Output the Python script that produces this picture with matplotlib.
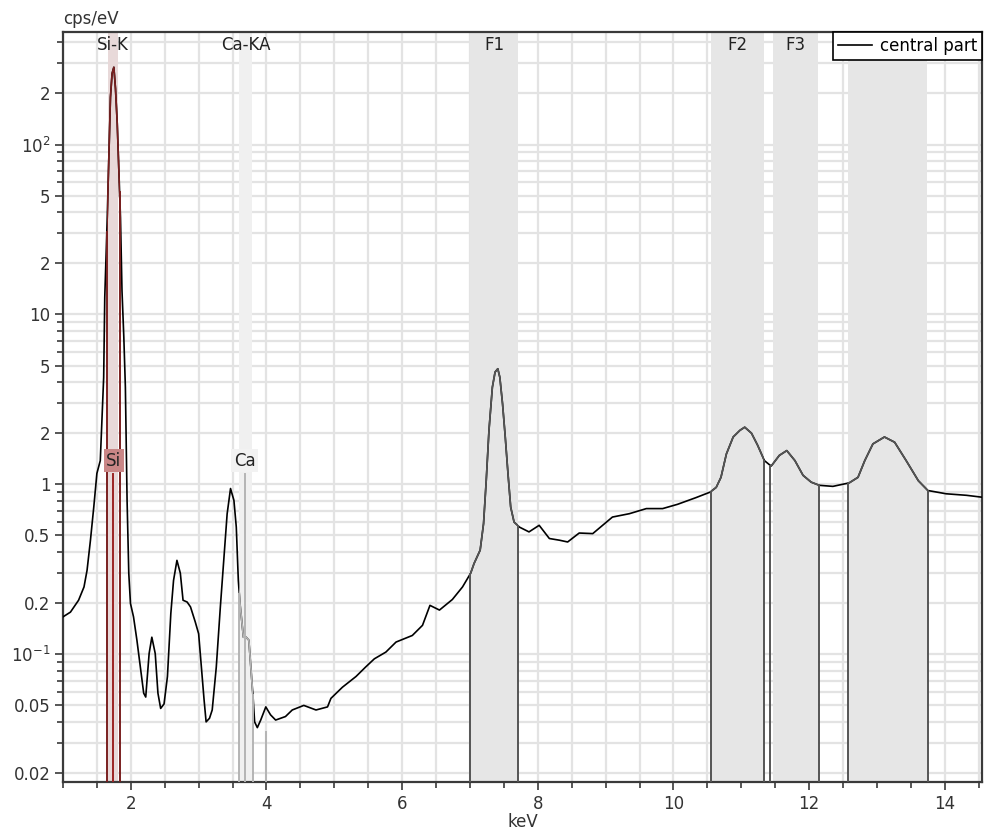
import numpy as np
import matplotlib.pyplot as plt
from matplotlib.patches import Rectangle
from matplotlib.ticker import FixedLocator, FuncFormatter

# Spectrum (keV, cps/eV)
energy_kev = [1.00, 1.11, 1.23, 1.31, 1.355, 1.405, 1.454, 1.50, 1.55, 1.60,
              1.616, 1.65, 1.675, 1.70, 1.724, 1.75, 1.774, 1.80, 1.823, 1.848,
              1.87, 1.897, 1.92, 1.945, 1.97, 1.995, 2.04, 2.09, 2.14, 2.19,
              2.22, 2.27, 2.31, 2.36, 2.40, 2.44, 2.49, 2.54, 2.59, 2.63,
              2.68, 2.73, 2.77, 2.83, 2.88, 2.95, 3.00, 3.04, 3.08, 3.11,
              3.16, 3.20, 3.26, 3.32, 3.37, 3.42, 3.47, 3.52, 3.555, 3.585,
              3.61, 3.63, 3.66, 3.70, 3.74, 3.77, 3.805, 3.825, 3.865, 3.915,
              3.99, 4.06, 4.135, 4.28, 4.38, 4.55, 4.73, 4.90, 4.95, 5.12,
              5.32, 5.46, 5.59, 5.76, 5.91, 6.15, 6.30, 6.41, 6.55, 6.74,
              6.89, 7.01, 7.06, 7.15, 7.20, 7.24, 7.28, 7.33, 7.37, 7.41,
              7.44, 7.48, 7.52, 7.56, 7.60, 7.65, 7.73, 7.87, 8.02, 8.17,
              8.32, 8.44, 8.61, 8.81, 9.10, 9.35, 9.60, 9.84, 10.06, 10.33,
              10.54, 10.63, 10.70, 10.78, 10.88, 10.98, 11.05, 11.15, 11.24, 11.34,
              11.44, 11.56, 11.67, 11.79, 11.91, 12.03, 12.15, 12.35, 12.59, 12.72,
              12.82, 12.94, 13.11, 13.26, 13.43, 13.61, 13.75, 14.02, 14.32, 14.55]
cps_per_ev = [0.166, 0.177, 0.208, 0.249, 0.312, 0.469, 0.735, 1.16, 1.38, 4.26,
              12.6, 34.3, 80.5, 190, 262, 285, 214, 133, 72, 37,
              13.8, 7.35, 3.73, 0.805, 0.30, 0.199, 0.166, 0.121, 0.084, 0.059,
              0.056, 0.101, 0.126, 0.101, 0.059, 0.048, 0.051, 0.074, 0.174, 0.272,
              0.357, 0.30, 0.208, 0.203, 0.19, 0.155, 0.132, 0.084, 0.054, 0.040,
              0.042, 0.047, 0.084, 0.19, 0.357, 0.67, 0.945, 0.805, 0.56, 0.272,
              0.198, 0.166, 0.126, 0.126, 0.121, 0.084, 0.054, 0.040, 0.037, 0.041,
              0.049, 0.044, 0.041, 0.043, 0.047, 0.050, 0.047, 0.049, 0.055, 0.064,
              0.074, 0.084, 0.094, 0.103, 0.118, 0.129, 0.148, 0.194, 0.182, 0.210,
              0.249, 0.30, 0.342, 0.41, 0.587, 1.06, 2.08, 3.73, 4.58, 4.79,
              4.27, 2.98, 1.90, 1.16, 0.735, 0.60, 0.56, 0.525, 0.574, 0.48,
              0.469, 0.458, 0.517, 0.513, 0.642, 0.672, 0.72, 0.72, 0.763, 0.835,
              0.90, 0.96, 1.10, 1.51, 1.90, 2.08, 2.17, 2.0, 1.70, 1.38,
              1.28, 1.48, 1.58, 1.38, 1.13, 1.03, 0.987, 0.973, 1.02, 1.10,
              1.38, 1.73, 1.90, 1.77, 1.38, 1.05, 0.92, 0.88, 0.862, 0.84]

# Highlighted regions (keV)
band_names = ['Si-K', 'Ca-KA', 'F1', 'F2', 'F3', '']
band_start = [1.66, 3.59, 7.00, 10.56, 11.46, 12.58]
band_end = [1.81, 3.79, 7.71, 11.34, 12.13, 13.74]
band_colors = ['#e8d9d9', '#f0f0f0', '#e6e6e6', '#e6e6e6', '#e6e6e6', '#e6e6e6']

# Region boundary lines (keV)
region_start = [1.646, 3.60, 7.00, 10.55, 11.43, 12.58]
region_end = [1.835, 3.80, 7.71, 11.34, 12.14, 13.75]
region_colors = ['#7a1f1f', '#b4b4b4', '#555555', '#555555', '#555555', '#555555']

# Element markers
elements = ['Si', 'Ca']
element_kev = [1.74, 3.69]
element_label_kev = [1.75, 3.68]
element_box_colors = ['#c98686', '#f2f2f2']
element_line_colors = ['#9b2424', '#b4b4b4']
ca_kb_kev = 3.99
ca_kb_height = 0.035

y_ticks = [0.02, 0.05, 0.1, 0.2, 0.5, 1, 2, 5, 10, 20, 50, 100, 200]
y_tick_labels = ['0.02', '0.05', '$10^{-1}$', '0.2', '0.5', '1', '2', '5',
                 '10', '2', '5', '$10^{2}$', '2']

x_min, x_max = 1.0, 14.55
y_min, y_max = 0.0177, 460

fig = plt.figure(figsize=(9.98, 8.4), dpi=100)
ax = fig.add_axes([0.0631, 0.069, 0.921, 0.893])
ax.set_yscale('log')
ax.set_xlim(x_min, x_max)
ax.set_ylim(y_min, y_max)

# Ticks and grid
minor_y = [m * 10.0 ** e for e in range(-2, 3) for m in range(1, 10)]
minor_y = [v for v in minor_y if y_min <= v <= y_max and v not in y_ticks]
ax.yaxis.set_major_locator(FixedLocator(y_ticks))
ax.yaxis.set_minor_locator(FixedLocator(minor_y))
ax.yaxis.set_major_formatter(FuncFormatter(lambda v, pos: y_tick_labels[pos] if pos is not None and pos < len(y_tick_labels) else ''))
ax.yaxis.set_minor_formatter(FuncFormatter(lambda v, pos: ''))
ax.xaxis.set_major_locator(FixedLocator(np.arange(2, 15, 2)))
ax.xaxis.set_minor_locator(FixedLocator([v for v in np.arange(1, 14.6, 0.5) if v % 2 != 0]))
ax.grid(True, which='both', color='#e3e3e3', linewidth=1.6, zorder=0)
ax.set_axisbelow(True)

# Bands
for name, x0, x1, c in zip(band_names, band_start, band_end, band_colors):
    ax.axvspan(x0, x1, color=c, zorder=1, linewidth=0)
    if name:
        ax.text((x0 + x1) / 2, 0.983, name, transform=ax.get_xaxis_transform(),
                ha='center', va='center', fontsize=12, color='#222222', zorder=5)

# Spectrum
line, = ax.plot(energy_kev, cps_per_ev, color='black', linewidth=1.2, zorder=3, label='central part')

# Region-coloured parts of the spectrum and boundary lines
log_counts = np.log10(cps_per_ev)
for x0, x1, c in zip(region_start, region_end, region_colors):
    seg, = ax.plot(energy_kev, cps_per_ev, color=c, linewidth=1.2, zorder=3.5)
    seg.set_clip_path(Rectangle((x0, y_min), x1 - x0, y_max - y_min, transform=ax.transData))
    for xb in (x0, x1):
        top = 10 ** np.interp(xb, energy_kev, log_counts)
        ax.plot([xb, xb], [y_min, top], color=c, linewidth=1.4, zorder=3.2)

# Element marker lines and labels
for el, xk, xl, bc, lc in zip(elements, element_kev, element_label_kev, element_box_colors, element_line_colors):
    ax.plot([xk, xk], [y_min, 1.15], color=lc, linewidth=1.4, zorder=3.4)
    ax.text(xl, 1.38, el, ha='center', va='center', fontsize=12, color='#222222', zorder=6,
            bbox=dict(boxstyle='square,pad=0.15', facecolor=bc, edgecolor='none'))
ax.plot([ca_kb_kev, ca_kb_kev], [y_min, ca_kb_height], color='#b4b4b4', linewidth=1.4, zorder=3.4)

# Axes styling
for s in ax.spines.values():
    s.set_color('#3a3a3a')
    s.set_linewidth(1.6)
ax.tick_params(axis='both', which='major', length=6, width=1.2, color='#3a3a3a',
               labelsize=12, labelcolor='#333333', pad=3)
ax.tick_params(axis='both', which='minor', length=4, width=1.2, color='#3a3a3a')

ax.set_xlabel('keV', fontsize=12, color='#333333', labelpad=0)
fig.text(0.0631, 0.977, 'cps/eV', fontsize=12, color='#333333', ha='left', va='center')

leg = ax.legend(loc='upper right', borderaxespad=0, fancybox=False, framealpha=1,
                edgecolor='black', fontsize=12, handlelength=2.0, borderpad=0.3,
                handletextpad=0.5)
leg.get_frame().set_linewidth(1.2)
leg.set_zorder(10)

plt.savefig('out.png', dpi=100)
